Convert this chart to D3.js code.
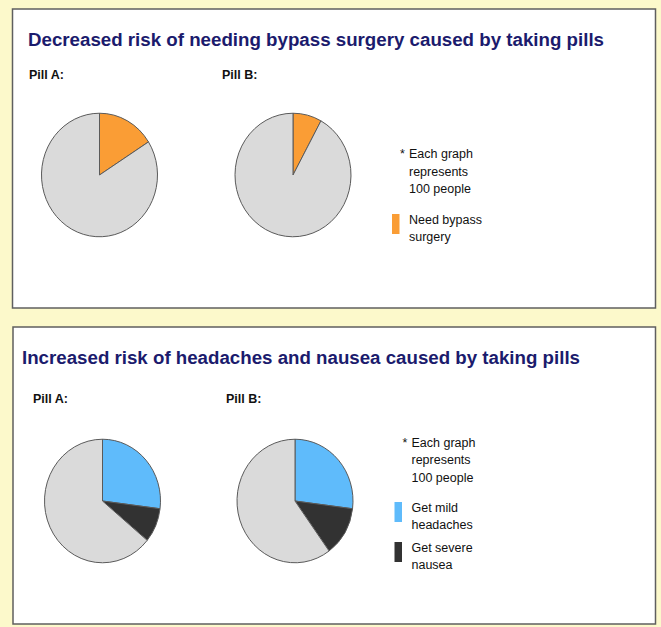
<!DOCTYPE html>
<html>
<head>
<meta charset="utf-8">
<script src="https://cdn.jsdelivr.net/npm/d3@7"></script>
<style>
  html, body { margin: 0; padding: 0; background: #fcf9cb; }
  svg { display: block; }
</style>
</head>
<body>
<script>
// Out of every 100 people, how many end up with each outcome
const pillNames = ["Pill A:", "Pill B:"];
const bypassCases = [16, 8];
const mildHeadaches = [27, 27];
const severeNausea = [9, 13];
const groupSize = 100;

const panelTitles = [
  "Decreased risk of needing bypass surgery caused by taking pills",
  "Increased risk of headaches and nausea caused by taking pills"
];
const noteLines = ["Each graph", "represents", "100 people"];
const bypassLegend = [["Need bypass", "surgery"]];
const sideEffectLegend = [["Get mild", "headaches"], ["Get severe", "nausea"]];

const colors = {
  rest: "#dadada",
  bypass: "#fa9d35",
  headache: "#5fbbfb",
  nausea: "#323232",
  title: "#1b1b6d",
  text: "#111111",
  edge: "#5a5a5a"
};

const W = 661, H = 627;
const svg = d3.select("body").append("svg").attr("width", W).attr("height", H);

const narrow = "'Liberation Sans Narrow', 'Arial Narrow', 'Liberation Sans', Arial, sans-serif";
const regular = "'Liberation Sans', Arial, Helvetica, sans-serif";

const pie = d3.pie().sort(null).value(d => d.value);
const radius = 58;
const arc = d3.arc().innerRadius(0).outerRadius(radius);

function drawPanel(cfg) {
  const g = svg.append("g");
  g.append("rect")
    .attr("x", cfg.x).attr("y", cfg.y)
    .attr("width", cfg.w).attr("height", cfg.h)
    .attr("fill", "#ffffff")
    .attr("stroke", "#5f5f5f").attr("stroke-width", 1.5);

  g.append("text")
    .attr("x", cfg.titleX).attr("y", cfg.y + 37)
    .attr("fill", colors.title)
    .attr("font-family", regular).attr("font-weight", "bold")
    .attr("font-size", 17.5)
    .attr("textLength", cfg.titleLen).attr("lengthAdjust", "spacingAndGlyphs")
    .text(cfg.title);

  cfg.slices.forEach((slices, i) => {
    g.append("text")
      .attr("x", cfg.labelX[i]).attr("y", cfg.y + cfg.labelDy)
      .attr("fill", colors.text)
      .attr("font-family", narrow).attr("font-weight", "bold")
      .attr("font-size", 12.5)
      .text(pillNames[i]);

    const pg = g.append("g")
      .attr("transform", `translate(${cfg.cx[i]},${cfg.cy}) scale(1,1.065)`);
    pg.selectAll("path")
      .data(pie(slices))
      .join("path")
      .attr("d", arc)
      .attr("fill", d => d.data.color)
      .attr("stroke", colors.edge)
      .attr("stroke-width", 1)
      .attr("vector-effect", "non-scaling-stroke");
  });

  // footnote
  const note = g.append("text")
    .attr("fill", colors.text)
    .attr("font-family", narrow)
    .attr("font-size", 12.5);
  note.append("tspan").attr("x", cfg.noteX - 9).attr("y", cfg.noteY).text("*");
  noteLines.forEach((line, k) => {
    note.append("tspan")
      .attr("x", cfg.noteX).attr("y", cfg.noteY + k * 17.5)
      .text(line);
  });

  cfg.legend.forEach((item, k) => {
    const top = cfg.legendY + k * cfg.legendStep;
    g.append("rect")
      .attr("x", cfg.noteX - 17).attr("y", top)
      .attr("width", 7.5).attr("height", 20)
      .attr("fill", item.color);
    const t = g.append("text")
      .attr("fill", colors.text)
      .attr("font-family", narrow)
      .attr("font-size", 12.5);
    item.lines.forEach((line, j) => {
      t.append("tspan")
        .attr("x", cfg.noteX).attr("y", top + 10 + j * 16.5)
        .text(line);
    });
  });
}

drawPanel({
  x: 12.5, y: 9, w: 643, h: 299,
  title: panelTitles[0], titleX: 28, titleLen: 576,
  labelX: [29, 222], labelDy: 70,
  cx: [99.5, 293], cy: 175,
  slices: bypassCases.map(v => [
    { value: v, color: colors.bypass },
    { value: groupSize - v, color: colors.rest }
  ]),
  noteX: 409, noteY: 158,
  legendY: 214, legendStep: 40,
  legend: bypassLegend.map(lines => ({ lines, color: colors.bypass }))
});

drawPanel({
  x: 13, y: 327, w: 642.5, h: 297,
  title: panelTitles[1], titleX: 22, titleLen: 558,
  labelX: [33, 226], labelDy: 76,
  cx: [102.5, 295], cy: 501,
  slices: mildHeadaches.map((v, i) => [
    { value: v, color: colors.headache },
    { value: severeNausea[i], color: colors.nausea },
    { value: groupSize - v - severeNausea[i], color: colors.rest }
  ]),
  noteX: 411.5, noteY: 446.5,
  legendY: 502, legendStep: 40,
  legend: sideEffectLegend.map((lines, k) => ({
    lines, color: k === 0 ? colors.headache : colors.nausea
  }))
});
</script>
</body>
</html>
